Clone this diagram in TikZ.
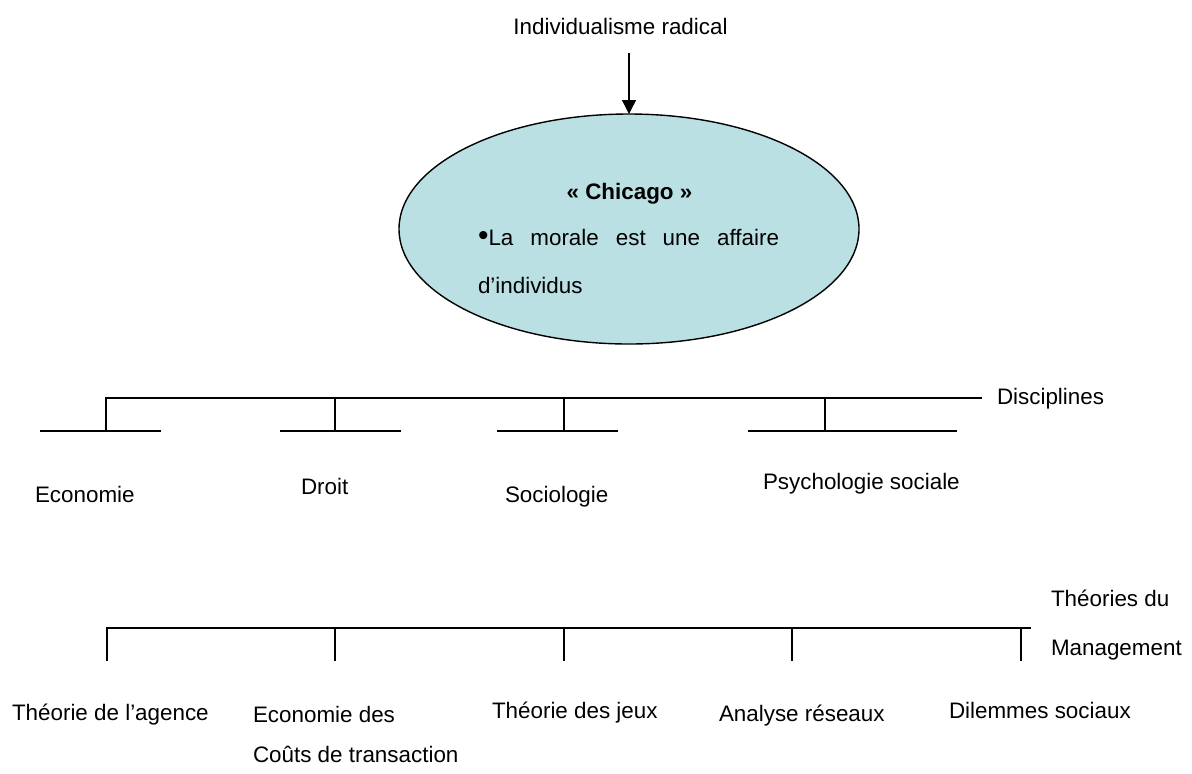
\documentclass[tikz,border=0pt]{standalone}
\usepackage{fontspec}
\setmainfont{Liberation Sans}
\usetikzlibrary{arrows.meta,shapes.geometric}
\definecolor{bubble}{RGB}{187,224,227}
\newcommand{\bigbullet}{{\fontsize{15}{15}\selectfont\textbullet}}
\begin{document}
\begin{tikzpicture}[x=0.5pt,y=-0.5pt,
  every node/.style={inner sep=0pt,outer sep=0pt,font=\fontsize{11.2}{13.4}\selectfont},
  lbl/.style={anchor=base west},
  wire/.style={line width=0.7pt,line join=miter},
  feed/.style={line width=0.7pt,-{Triangle[length=7pt,width=7pt]}},
  bubblebox/.style={ellipse,draw,line width=0.7pt,fill=bubble,minimum width=230pt,minimum height=115pt}]
\useasboundingbox (0,0) rectangle (1192,773);

% top: source and the Chicago bubble
\node[anchor=base] (src) at (620.5,34.5) {Individualisme radical};
\node[bubblebox] (ell) at (629,229) {};
\coordinate (feedstart) at (629,53);
\draw[feed] (feedstart) -- (ell.north);
\node[anchor=base] (chi) at (629.5,199) {\textbf{« Chicago »}};
\node[lbl] (mor1) at (478,245.6) {\hbox to 150.5pt{\bigbullet La\hfill morale\hfill est\hfill une\hfill affaire}};
\node[lbl] (mor2) at (478,293.5) {d’individus};

% disciplines
\coordinate (b0) at (106,398);
\coordinate (b1) at (335,398);
\coordinate (b2) at (564,398);
\coordinate (b3) at (825,398);
\coordinate (bend) at (982,398);
\coordinate (t0) at (106,431);
\coordinate (t1) at (335,431);
\coordinate (t2) at (564,431);
\coordinate (t3) at (825,431);
\draw[wire] (t0) -- (b0) -- (bend);
\draw[wire] (b1) -- (t1);
\draw[wire] (b2) -- (t2);
\draw[wire] (b3) -- (t3);
\coordinate (u0a) at (40,431);  \coordinate (u0b) at (161,431);
\coordinate (u1a) at (280,431); \coordinate (u1b) at (401,431);
\coordinate (u2a) at (497,431); \coordinate (u2b) at (618,431);
\coordinate (u3a) at (748,431); \coordinate (u3b) at (957,431);
\draw[wire] (u0a) -- (u0b);
\draw[wire] (u1a) -- (u1b);
\draw[wire] (u2a) -- (u2b);
\draw[wire] (u3a) -- (u3b);
\node[lbl] (disc) at (997,404.3) {Disciplines};
\node[lbl] (eco) at (35,502) {Economie};
\node[lbl] (droit) at (301,494.3) {Droit};
\node[lbl] (socio) at (505,502) {Sociologie};
\node[lbl] (psy) at (763,489.3) {Psychologie sociale};

% management theories
\coordinate (m0) at (107,628);
\coordinate (m1) at (335,628);
\coordinate (m2) at (564,628);
\coordinate (m3) at (792,628);
\coordinate (m4) at (1021,628);
\coordinate (mend) at (1031,628);
\coordinate (n0) at (107,661);
\coordinate (n1) at (335,661);
\coordinate (n2) at (564,661);
\coordinate (n3) at (792,661);
\coordinate (n4) at (1021,661);
\draw[wire] (n0) -- (m0) -- (mend);
\draw[wire] (m1) -- (n1);
\draw[wire] (m2) -- (n2);
\draw[wire] (m3) -- (n3);
\draw[wire] (m4) -- (n4);
\node[lbl] (th1) at (1051,606.7) {Théories du};
\node[lbl] (th2) at (1051,655) {Management};
\node[lbl] (agence) at (12,720) {Théorie de l’agence};
\node[lbl] (ect1) at (253,722.7) {Economie des};
\node[lbl] (ect2) at (253,762.7) {Coûts de transaction};
\node[lbl] (jeux) at (492,718) {Théorie des jeux};
\node[lbl] (res) at (719,721) {Analyse réseaux};
\node[lbl] (dil) at (949,718) {Dilemmes sociaux};
\end{tikzpicture}
\end{document}
